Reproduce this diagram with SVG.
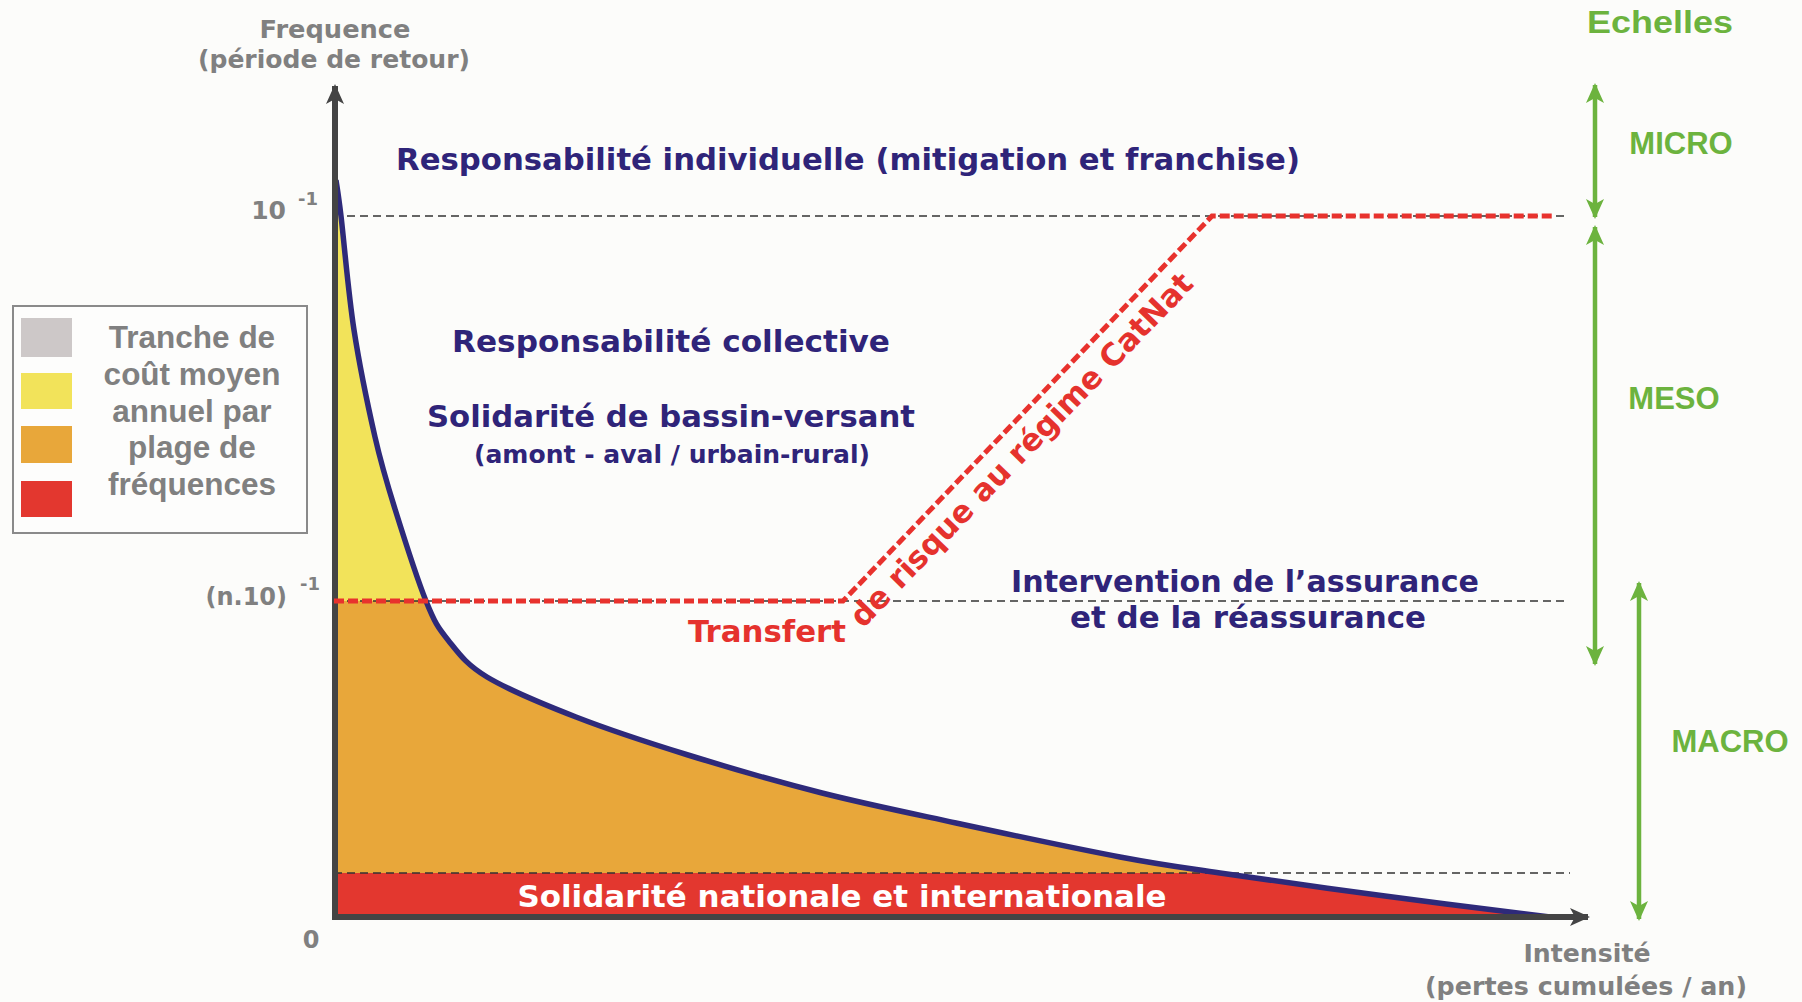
<svg xmlns="http://www.w3.org/2000/svg" width="1802" height="1002" viewBox="0 0 1802 1002">
<style>
.nv{font-family:"DejaVu Sans",sans-serif;font-weight:bold;fill:#2f2479}
.gr{font-family:"DejaVu Sans",sans-serif;font-weight:bold;fill:#808080}
.rd{font-family:"DejaVu Sans",sans-serif;font-weight:bold;fill:#e5322d}
.gn{font-family:"Liberation Sans",Arial,sans-serif;font-weight:bold;fill:#6cb33e}
.lg{font-family:"Liberation Sans",Arial,sans-serif;font-weight:bold;fill:#808080;font-size:31.5px}
.dash{stroke:#333;stroke-width:1.6;stroke-dasharray:8 5;fill:none}
.garrow{stroke:#6cb33e;stroke-width:4.5;fill:none;marker-start:url(#gh);marker-end:url(#gh)}
</style>
<defs>
<marker id="gh" viewBox="0 0 20 20" refX="18" refY="10" markerWidth="20" markerHeight="20" markerUnits="userSpaceOnUse" orient="auto-start-reverse">
<path d="M0,1 L20,10 L0,19 L5,10 Z" fill="#6cb33e"/>
</marker>
<marker id="ah" viewBox="0 0 20 20" refX="18" refY="10" markerWidth="20" markerHeight="20" markerUnits="userSpaceOnUse" orient="auto">
<path d="M0,1 L20,10 L0,19 L5,10 Z" fill="#444"/>
</marker>
</defs>
<rect x="0" y="0" width="1802" height="1002" fill="#fcfcfa"/>

<g id="zones">
<path id="zone-yellow" d="M336,180 C336.8,186 338,191 341,216 C344,241 348.3,293.2 354,330 C359.7,366.8 368.2,407.2 375,437 C381.8,466.8 386.5,481.8 395,509 C403.5,536.2 417.2,579.2 426,601 L334,601 L334,180 Z" fill="#f2e35a"/>
<path id="zone-orange" d="M334,601 L426,601 C434.8,622.8 437.8,627.3 448,640 C458.2,652.7 465.7,664.2 487,677 C508.3,689.8 542.5,704 576,717 C609.5,730 647,742.3 688,755 C729,767.7 777.3,781.7 822,793 C866.7,804.3 906.3,812.3 956,823 C1005.7,833.7 1076,848.7 1120,857 C1164,865.3 1175.8,866.5 1220,873 L334,873 Z" fill="#e8a73a"/>
<path id="zone-red" d="M334,873 L1220,873 C1264.2,879.5 1330,888.7 1385,896 C1440,903.3 1522.5,913.5 1550,917 L334,917 Z" fill="#e3372f"/>
</g>

<g id="grid">
<line class="dash" x1="347" y1="216" x2="1566" y2="216"/>
<line class="dash" x1="334" y1="601" x2="1569" y2="601"/>
<line class="dash" x1="334" y1="873" x2="1570" y2="873"/>
</g>

<g id="curve">
<path d="M336,180 C336.8,186 338,191 341,216 C344,241 348.3,293.2 354,330 C359.7,366.8 368.2,407.2 375,437 C381.8,466.8 386.5,481.8 395,509 C403.5,536.2 417.2,579.2 426,601 C434.8,622.8 437.8,627.3 448,640 C458.2,652.7 465.7,664.2 487,677 C508.3,689.8 542.5,704 576,717 C609.5,730 647,742.3 688,755 C729,767.7 777.3,781.7 822,793 C866.7,804.3 906.3,812.3 956,823 C1005.7,833.7 1076,848.7 1120,857 C1164,865.3 1175.8,866.5 1220,873 C1264.2,879.5 1330,888.7 1385,896 C1440,903.3 1522.5,913.5 1550,917" fill="none" stroke="#2e2a7a" stroke-width="5.5" stroke-linejoin="round"/>
</g>

<g id="connectors">
<line id="axis-y" x1="335" y1="920" x2="335" y2="86" stroke="#444" stroke-width="6" marker-end="url(#ah)"/>
<line id="axis-x" x1="332" y1="917" x2="1588" y2="917" stroke="#444" stroke-width="6" marker-end="url(#ah)"/>
<path id="catnat-line" d="M334,601 L843,601 L1212,216 L1554,216" fill="none" stroke="#e8322d" stroke-width="5" stroke-dasharray="10 4"/>
<line id="arrow-micro" class="garrow" x1="1595" y1="85" x2="1595" y2="217"/>
<line id="arrow-meso" class="garrow" x1="1595" y1="227" x2="1595" y2="664"/>
<line id="arrow-macro" class="garrow" x1="1639" y1="583" x2="1639" y2="919"/>
</g>

<g id="axis-labels">
<text class="gr" x="335" y="38" font-size="25" text-anchor="middle" textLength="151" lengthAdjust="spacingAndGlyphs">Frequence</text>
<text class="gr" x="334" y="68" font-size="25" text-anchor="middle" textLength="272" lengthAdjust="spacingAndGlyphs">(période de retour)</text>
<text class="gr" x="286" y="219" font-size="25" text-anchor="end">10</text>
<text class="gr" x="298" y="205" font-size="18">-1</text>
<text class="gr" x="287" y="605" font-size="24" text-anchor="end">(n.10)</text>
<text class="gr" x="300" y="590" font-size="18">-1</text>
<text class="gr" x="311" y="948" font-size="24" text-anchor="middle">0</text>
<text class="gr" x="1587" y="962" font-size="25" text-anchor="middle" textLength="127" lengthAdjust="spacingAndGlyphs">Intensité</text>
<text class="gr" x="1586" y="995" font-size="25" text-anchor="middle" textLength="322" lengthAdjust="spacingAndGlyphs">(pertes cumulées / an)</text>
</g>

<g id="legend">
<rect x="13" y="306" width="294" height="227" fill="#fdfdfc" stroke="#8a8a8a" stroke-width="2"/>
<rect x="21" y="318" width="51" height="39" fill="#cdc8c8"/>
<rect x="21" y="373" width="51" height="36" fill="#f2e35a"/>
<rect x="21" y="426" width="51" height="37" fill="#e8a73a"/>
<rect x="21" y="481" width="51" height="36" fill="#e3372f"/>
<text class="lg" x="192" y="348" text-anchor="middle">Tranche de</text>
<text class="lg" x="192" y="385" text-anchor="middle">coût moyen</text>
<text class="lg" x="192" y="422" text-anchor="middle">annuel par</text>
<text class="lg" x="192" y="458" text-anchor="middle">plage de</text>
<text class="lg" x="192" y="495" text-anchor="middle">fréquences</text>
</g>

<g id="label-individuelle">
<text class="nv" x="848" y="170" font-size="30" text-anchor="middle" textLength="904" lengthAdjust="spacingAndGlyphs">Responsabilité individuelle (mitigation et franchise)</text>
</g>
<g id="label-collective">
<text class="nv" x="671" y="352" font-size="30" text-anchor="middle" textLength="438" lengthAdjust="spacingAndGlyphs">Responsabilité collective</text>
</g>
<g id="label-bassin">
<text class="nv" x="671" y="427" font-size="30" text-anchor="middle" textLength="488" lengthAdjust="spacingAndGlyphs">Solidarité de bassin-versant</text>
<text class="nv" x="672" y="463" font-size="25" text-anchor="middle" textLength="396" lengthAdjust="spacingAndGlyphs">(amont - aval / urbain-rural)</text>
</g>
<g id="label-assurance">
<text class="nv" x="1245" y="592" font-size="30" text-anchor="middle" textLength="468" lengthAdjust="spacingAndGlyphs">Intervention de l’assurance</text>
<text class="nv" x="1248" y="628" font-size="30" text-anchor="middle" textLength="356" lengthAdjust="spacingAndGlyphs">et de la réassurance</text>
</g>
<g id="label-transfert">
<text class="rd" x="767" y="642" font-size="30" text-anchor="middle" textLength="158" lengthAdjust="spacingAndGlyphs">Transfert</text>
<text class="rd" x="0" y="0" font-size="31" transform="translate(863,629) rotate(-46)" textLength="478" lengthAdjust="spacingAndGlyphs">de risque au régime CatNat</text>
</g>
<g id="label-nationale">
<text x="842" y="907" font-family="DejaVu Sans,sans-serif" font-weight="bold" font-size="31" fill="#ffffff" text-anchor="middle" textLength="649" lengthAdjust="spacingAndGlyphs">Solidarité nationale et internationale</text>
</g>

<g id="scales">
<text class="gn" x="1660" y="33" font-size="31.5" text-anchor="middle" font-family="DejaVu Sans,sans-serif" textLength="146" lengthAdjust="spacingAndGlyphs">Echelles</text>
<text class="gn" x="1681" y="154" font-size="31" text-anchor="middle">MICRO</text>
<text class="gn" x="1674" y="409" font-size="31" text-anchor="middle">MESO</text>
<text class="gn" x="1730" y="752" font-size="31" text-anchor="middle">MACRO</text>
</g>
</svg>
